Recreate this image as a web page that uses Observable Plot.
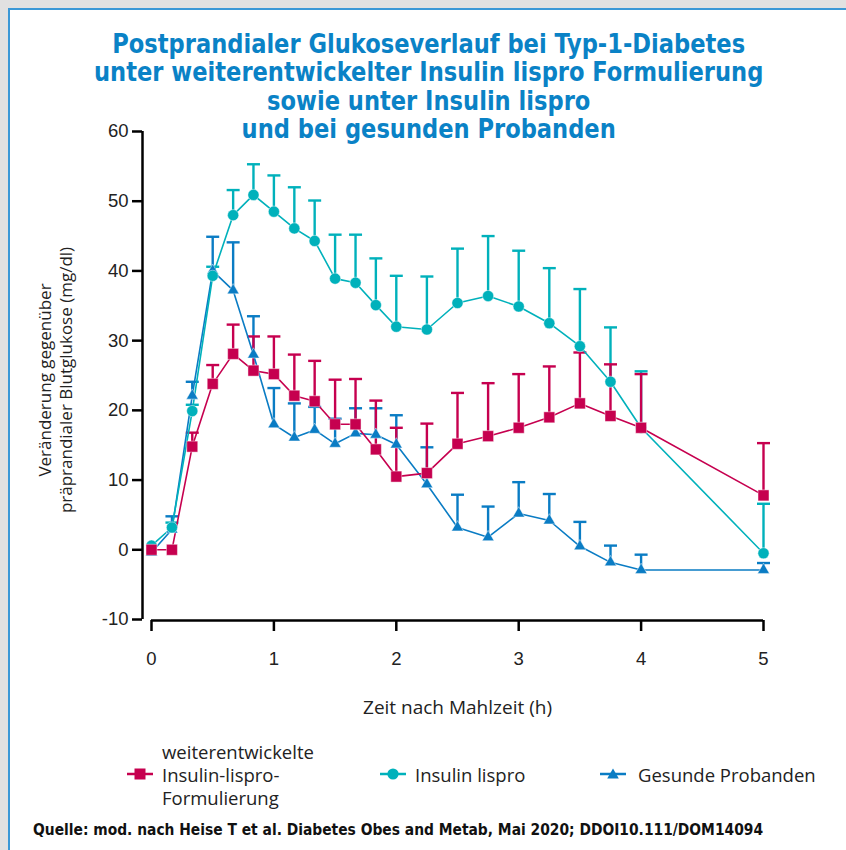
<!DOCTYPE html>
<html><head><meta charset="utf-8">
<script src="https://cdn.jsdelivr.net/npm/d3@7"></script>
<script src="https://cdn.jsdelivr.net/npm/@observablehq/plot@0.6"></script>
<style>
html,body{margin:0;padding:0;background:#e1e1e1;}
#page{position:relative;width:846px;height:850px;overflow:hidden;}
#card{position:absolute;left:8px;top:8px;width:860px;height:860px;background:#fff;border-top:2px solid #3b98d6;border-left:2px solid #3b98d6;}
#title{position:absolute;left:10px;width:836px;top:30px;text-align:center;font-family:"DejaVu Sans Condensed","Liberation Sans Narrow",sans-serif;font-weight:bold;font-size:27px;line-height:28.4px;color:#0a82c6;transform:scaleX(0.93);transform-origin:428px 0;}
#chart{position:absolute;left:0;top:0;}
#ylabel{position:absolute;left:55px;top:380px;transform:translate(-50%,-50%) rotate(-90deg);white-space:nowrap;text-align:center;font-family:"Open Sans","Liberation Sans",sans-serif;font-size:17px;line-height:21px;color:#222;}
.lg{position:absolute;font-family:"Open Sans","Liberation Sans",sans-serif;font-size:18.5px;line-height:23px;color:#222;white-space:nowrap;}
.sw{position:absolute;}
#footer{position:absolute;left:33px;top:821px;font-family:"DejaVu Sans Condensed","Liberation Sans",sans-serif;font-weight:bold;font-size:15.4px;color:#111;white-space:nowrap;}
</style></head>
<body>
<div id="page">
  <div id="card"></div>
  <div id="chart"></div>
  <div id="title"></div>
  <div id="ylabel"></div>
  <div id="legend"></div>
  <div id="footer"></div>
</div>
<script>
// ---- data ----
const titleLines = ["Postprandialer Glukoseverlauf bei Typ-1-Diabetes","unter weiterentwickelter Insulin lispro Formulierung","sowie unter Insulin lispro","und bei gesunden Probanden"];
const yLabelLines = ["Veränderung gegenüber","präprandialer Blutglukose (mg/dl)"];
const xLabel = "Zeit nach Mahlzeit (h)";
const footerText = "Quelle: mod. nach Heise T et al. Diabetes Obes and Metab, Mai 2020; DDOI10.111/DOM14094";
const xTicks = [0,1,2,3,4,5];
const yTicks = [-10,0,10,20,30,40,50,60];

const times = [0, 0.167, 0.333, 0.5, 0.667, 0.833, 1, 1.167, 1.333, 1.5, 1.667, 1.833, 2, 2.25, 2.5, 2.75, 3, 3.25, 3.5, 3.75, 4, 5];

const seriesNames = ["weiterentwickelte Insulin-lispro-Formulierung","Insulin lispro","Gesunde Probanden"];
const legendLabels = [["weiterentwickelte","Insulin-lispro-","Formulierung"],["Insulin lispro"],["Gesunde Probanden"]];
const seriesColors = ["#c6004f","#00b1bb","#0a7cc4"];
const seriesSymbols = ["square","circle","triangle"];

const newLisproMean  = [0, 0, 14.8, 23.8, 28.1, 25.7, 25.2, 22.1, 21.3, 18.0, 18.0, 14.4, 10.5, 11.0, 15.2, 16.3, 17.5, 19.0, 21.0, 19.2, 17.5, 7.8];
const newLisproUpper = [null, null, 16.8, 26.5, 32.3, 30.6, 30.6, 28.0, 27.1, 24.4, 24.5, 21.4, 17.5, 18.1, 22.5, 23.9, 25.2, 26.3, 28.3, 26.6, 25.2, 15.3];
const lisproMean  = [0.6, 3.2, 19.9, 39.3, 48.0, 50.9, 48.5, 46.1, 44.3, 38.9, 38.3, 35.1, 32.0, 31.6, 35.4, 36.4, 34.9, 32.5, 29.2, 24.1, 17.5, -0.5];
const lisproUpper = [null, 3.9, 20.8, 40.6, 51.6, 55.3, 53.7, 52.0, 50.1, 45.2, 45.2, 41.8, 39.3, 39.2, 43.2, 45.0, 42.9, 40.4, 37.4, 31.9, 25.6, 6.6];
const healthyMean  = [-0.4, 2.9, 22.1, 40.0, 37.2, 28.0, 18.0, 16.1, 17.2, 15.2, 16.7, 16.5, 15.1, 9.4, 3.2, 1.8, 5.2, 4.2, 0.5, -1.8, -2.9, -2.9];
const healthyUpper = [null, 4.8, 24.1, 44.9, 44.1, 33.5, 23.2, 21.0, 20.5, 18.8, 20.3, 20.3, 19.3, 14.7, 7.9, 6.2, 9.7, 8.0, 4.0, 0.6, -0.7, -1.9];

const means = [newLisproMean, lisproMean, healthyMean];
const uppers = [newLisproUpper, lisproUpper, healthyUpper];

// ---- table ----
const seriesRows = means.map((m, s) => times.map((t, i) => ({series: seriesNames[s], t, mean: m[i], upper: uppers[s][i]})));

const capSymbol = {draw(ctx, size){ const w = Math.sqrt(size/Math.PI); ctx.moveTo(-w,0); ctx.lineTo(w,0); }};
const markerR = {square:6.2, circle:5.6, triangle:4.4};

const marks = [];
for (const s of [1,2,0]) {
  const rows = seriesRows[s].filter(d => d.upper != null);
  marks.push(Plot.ruleX(rows, {x:"t", y1:"mean", y2:"upper", stroke:seriesColors[s], strokeWidth:2.4}));
  marks.push(Plot.dot(rows, {x:"t", y:"upper", symbol:capSymbol, r:6.5, stroke:seriesColors[s], strokeWidth:2.4, fill:"none"}));
}
for (const s of [2,1,0]) {
  marks.push(Plot.line(seriesRows[s], {x:"t", y:"mean", stroke:seriesColors[s], strokeWidth:1.6}));
}
for (const s of [2,1,0]) {
  marks.push(Plot.dot(seriesRows[s], {x:"t", y:"mean", symbol:seriesSymbols[s], r:markerR[seriesSymbols[s]], fill:seriesColors[s], stroke:"#ffffff", strokeOpacity:0.45, strokeWidth:1}));
}

const chart = Plot.plot({
  width: 846, height: 720,
  marginLeft: 151, marginRight: 83, marginTop: 131, marginBottom: 101,
  x: {domain: [0,5]},
  y: {domain: [-10,60]},
  style: {fontFamily: "'Liberation Sans', Arial, sans-serif", fontSize: "18px", color: "#222", background: "transparent", overflow: "visible"},
  marks: [
    Plot.axisY({ticks: yTicks, tickFormat: d => String(d), tickSize: 10, tickPadding: 4, dx: -9, strokeWidth: 2.5, stroke: "#000", label: null, fontSize: 18.5}),
    Plot.ruleX([0], {y1: -10, y2: 60, dx: -9, strokeWidth: 2.5, stroke: "#000"}),
    Plot.axisX({ticks: xTicks, tickFormat: d => String(d), tickSize: 11, tickPadding: 20, dy: 1, strokeWidth: 2.5, stroke: "#000", label: null, fontSize: 18.5}),
    Plot.ruleY([-10], {x1: 0, x2: 5, dy: 1, strokeWidth: 2.5, stroke: "#000"}),
    Plot.text([xLabel], {text: d => d, frameAnchor: "bottom", dy: 88, lineAnchor: "middle", fontSize: 19, fontFamily: "'Open Sans', 'Liberation Sans', sans-serif", fill: "#222"}),
    ...marks
  ]
});
document.getElementById("chart").appendChild(chart);

// ---- html texts ----
document.getElementById("title").innerHTML = titleLines.map(l => `<div>${l}</div>`).join("");
document.getElementById("ylabel").innerHTML = yLabelLines.map(l => `<div>${l}</div>`).join("");
document.getElementById("footer").textContent = footerText;

const legendPos = [{sw:126, tx:162, top:740}, {sw:379, tx:415, top:763}, {sw:599, tx:638, top:763}];
const lg = document.getElementById("legend");
legendPos.forEach((p, s) => {
  const c = seriesColors[s];
  let shape;
  if (s === 0) shape = `<rect x="8.5" y="4.5" width="11" height="11" fill="${c}"/>`;
  else if (s === 1) shape = `<circle cx="14" cy="10" r="5.6" fill="${c}"/>`;
  else shape = `<path d="M14,4.5 L19.8,14.5 L8.2,14.5 Z" fill="${c}"/>`;
  const sw = document.createElement("div");
  sw.className = "sw";
  sw.style.left = p.sw + "px"; sw.style.top = "764px";
  sw.innerHTML = `<svg width="28" height="20"><line x1="1" x2="27" y1="10" y2="10" stroke="${c}" stroke-width="2.5"/>${shape}</svg>`;
  lg.appendChild(sw);
  const t = document.createElement("div");
  t.className = "lg";
  t.style.left = p.tx + "px"; t.style.top = p.top + "px";
  t.innerHTML = legendLabels[s].map(l => `<div>${l}</div>`).join("");
  lg.appendChild(t);
});
</script>
</body></html>
